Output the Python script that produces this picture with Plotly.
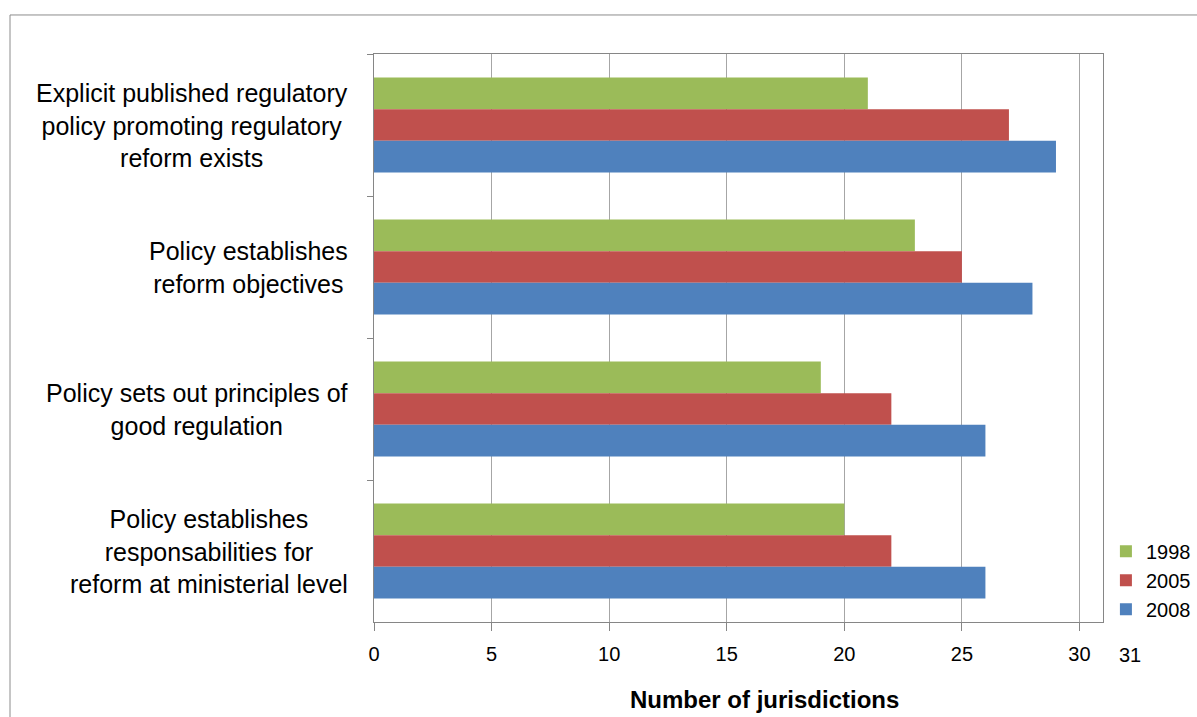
import plotly.graph_objects as go

categories = [
    "Explicit published regulatory<br>policy promoting regulatory<br>reform exists",
    "Policy establishes<br>reform objectives",
    "Policy sets out principles of<br>good regulation",
    "Policy establishes<br>responsabilities for<br>reform at ministerial level",
]
years = ["1998", "2005", "2008"]
values_1998 = [21, 23, 19, 20]
values_2005 = [27, 25, 22, 22]
values_2008 = [29, 28, 26, 26]
x_ticks = [0, 5, 10, 15, 20, 25, 30]
x_max = 31

colors = {"1998": "#9BBB59", "2005": "#C0504D", "2008": "#4F81BD"}
series = {"1998": values_1998, "2005": values_2005, "2008": values_2008}

FONT = "Liberation Sans"
GRID = "#A6A6A6"
AXIS = "#868686"

fig = go.Figure()
for yr in years:
    fig.add_trace(go.Bar(
        y=categories, x=series[yr], name=yr, orientation="h",
        marker=dict(color=colors[yr], line=dict(width=0)),
    ))

fig.update_layout(
    width=1197, height=717,
    margin=dict(l=374, r=94, t=54, b=95, autoexpand=False),
    paper_bgcolor="white", plot_bgcolor="white",
    barmode="group", bargap=0.33, bargroupgap=0,
    font=dict(family=FONT, size=20, color="black"),
    showlegend=True,
    legend=dict(
        x=1.004, y=0.159, xanchor="left", yanchor="top",
        font=dict(family=FONT, size=20), traceorder="normal",
        itemwidth=30, tracegroupgap=0, bgcolor="rgba(0,0,0,0)",
    ),
    xaxis=dict(
        range=[0, x_max], tickvals=x_ticks, ticktext=[str(v) for v in x_ticks],
        showgrid=True, gridcolor=GRID, gridwidth=1,
        showline=True, linecolor=AXIS, linewidth=1, mirror=True,
        ticks="outside", ticklen=8, tickcolor=AXIS, ticklabelstandoff=6,
        tickfont=dict(family=FONT, size=20), zeroline=False,
        fixedrange=True,
    ),
    yaxis=dict(
        categoryorder="array", categoryarray=categories, autorange="reversed",
        showticklabels=False, showgrid=False,
        showline=True, linecolor=AXIS, linewidth=1, mirror=True,
        ticks="outside", ticklen=6, tickcolor=AXIS, tickson="boundaries",
        zeroline=False,
    ),
)

# category labels, centered per line and set flush against the axis
for cat in categories:
    fig.add_annotation(
        x=0, xref="paper", y=cat, yref="y", xanchor="right", yanchor="middle",
        xshift=-24, text=cat, showarrow=False, align="center",
        font=dict(family=FONT, size=25, color="black"),
    )

# end-of-scale label
fig.add_annotation(
    x=x_max, xref="x", y=0, yref="paper", yshift=-33, xshift=27,
    text=str(x_max), showarrow=False, yanchor="middle",
    font=dict(family=FONT, size=20, color="black"),
)

# axis title
fig.add_annotation(
    x=0.536, xref="paper", y=-0.137, yref="paper", yanchor="middle",
    text="<b>Number of jurisdictions</b>", showarrow=False,
    font=dict(family=FONT, size=24, color="black"),
)

# chart frame
fig.add_shape(type="line", xref="paper", yref="paper",
              x0=-0.4993, x1=-0.4993, y0=1.0687, y1=-0.3,
              line=dict(color="#8C8C8C", width=1))
fig.add_shape(type="line", xref="paper", yref="paper",
              x0=-0.4993, x1=1.3, y0=1.0687, y1=1.0687,
              line=dict(color="#8C8C8C", width=1))

fig.write_html("out.html")
